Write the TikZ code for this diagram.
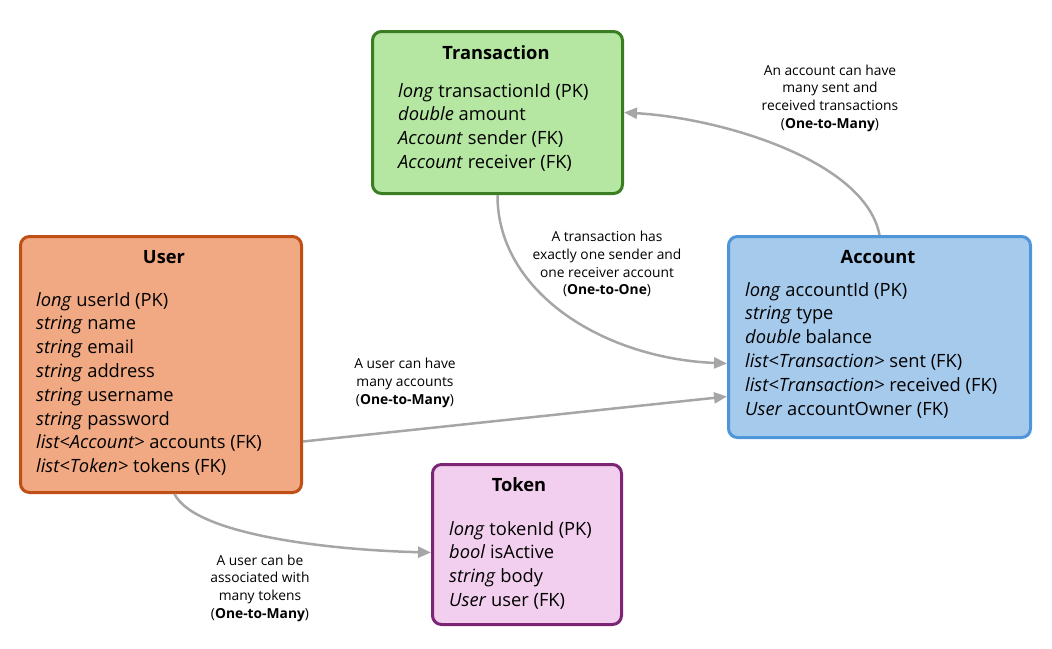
\documentclass[tikz,border=0pt]{standalone}
\usepackage{fontspec}
\setmainfont{Open Sans}
\usetikzlibrary{arrows.meta,calc}
\definecolor{trfill}{HTML}{B5E6A2}
\definecolor{trline}{HTML}{3B7D23}
\definecolor{usfill}{HTML}{F1A983}
\definecolor{usline}{HTML}{C04F15}
\definecolor{acfill}{HTML}{A6CAEC}
\definecolor{acline}{HTML}{4E95D9}
\definecolor{tkfill}{HTML}{F2CFEE}
\definecolor{tkline}{HTML}{7B2574}
\definecolor{conn}{HTML}{A6A6A6}
\begin{document}
\begin{tikzpicture}[x=1pt,y=-1pt,
  entity/.style={draw, line width=3pt, rounded corners=9pt, inner sep=0pt, anchor=north west},
  ttl/.style={font=\fontsize{18.3}{21}\selectfont\bfseries, inner sep=0pt},
  body/.style={font=\fontsize{18.3}{23.8}\selectfont, align=left, inner sep=0pt, anchor=north west},
  lbl/.style={font=\fontsize{13.8}{17.7}\selectfont, align=center, inner sep=0pt},
  rel/.style={draw=conn, line width=2.5pt, -{Triangle[length=13pt,width=11pt]}}]
\useasboundingbox (0,0) rectangle (1052,648);
% boxes
\node[entity, draw=trline, fill=trfill, minimum width=250pt, minimum height=162pt] (tr) at (371,30) {};
\node[entity, draw=usline, fill=usfill, minimum width=281pt, minimum height=256pt] (us) at (19,235) {};
\node[entity, draw=acline, fill=acfill, minimum width=302pt, minimum height=201pt] (ac) at (727,235) {};
\node[entity, draw=tkline, fill=tkfill, minimum width=189pt, minimum height=160pt] (tk) at (431,463) {};
% titles
\node[ttl] (trt) at (496,53) {Transaction};
\node[ttl] (ust) at (164,257) {User};
\node[ttl] (act) at (878,257) {Account};
\node[ttl] (tkt) at (519,485) {Token};
% bodies
\node[body] (trb) at (398,83) {\textit{long} transactionId (PK)\\\textit{double} amount\\\textit{Account} sender (FK)\\\textit{Account} receiver (FK)};
\node[body] (usb) at (36,292) {\textit{long} userId (PK)\\\textit{string} name\\\textit{string} email\\\textit{string} address\\\textit{string} username\\\textit{string} password\\\textit{list<Account>} accounts (FK)\\\textit{list<Token>} tokens (FK)};
\node[body] (acb) at (745,282) {\textit{long} accountId (PK)\\\textit{string} type\\\textit{double} balance\\\textit{list<Transaction>} sent (FK)\\\textit{list<Transaction>} received (FK)\\\textit{User} accountOwner (FK)};
\node[body] (tkb) at (449,521) {\textit{long} tokenId (PK)\\\textit{bool} isActive\\\textit{string} body\\\textit{User} user (FK)};
% connector end points
\coordinate (acin1) at ($(ac.west)+(0,26.5)$);
\coordinate (acin2) at ($(ac.west)+(0,59.5)$);
\coordinate (usout1) at ($(us.east)+(0,77)$);
\coordinate (usout2) at ($(us.south)+(13.5,0)$);
\coordinate (tkin) at ($(tk.west)+(0,8)$);
% connectors
\draw[rel] (ac.north) .. controls (865,160) and (720,118) .. (tr.east);
\draw[rel] (tr.south) .. controls (497,290) and (600,358) .. (acin1);
\draw[rel] (usout1) -- (acin2);
\draw[rel] (usout2) .. controls (195,535) and (330,550) .. (tkin);
% labels
\node[lbl] (l1) at (830,98) {An account can have\\many sent and\\received transactions\\(\textbf{One-to-Many})};
\node[lbl] (l2) at (607,264) {A transaction has\\exactly one sender and\\one receiver account\\(\textbf{One-to-One})};
\node[lbl] (l3) at (405,383) {A user can have\\many accounts\\(\textbf{One-to-Many})};
\node[lbl] (l4) at (260,588) {A user can be\\associated with\\many tokens\\(\textbf{One-to-Many})};
\end{tikzpicture}
\end{document}
